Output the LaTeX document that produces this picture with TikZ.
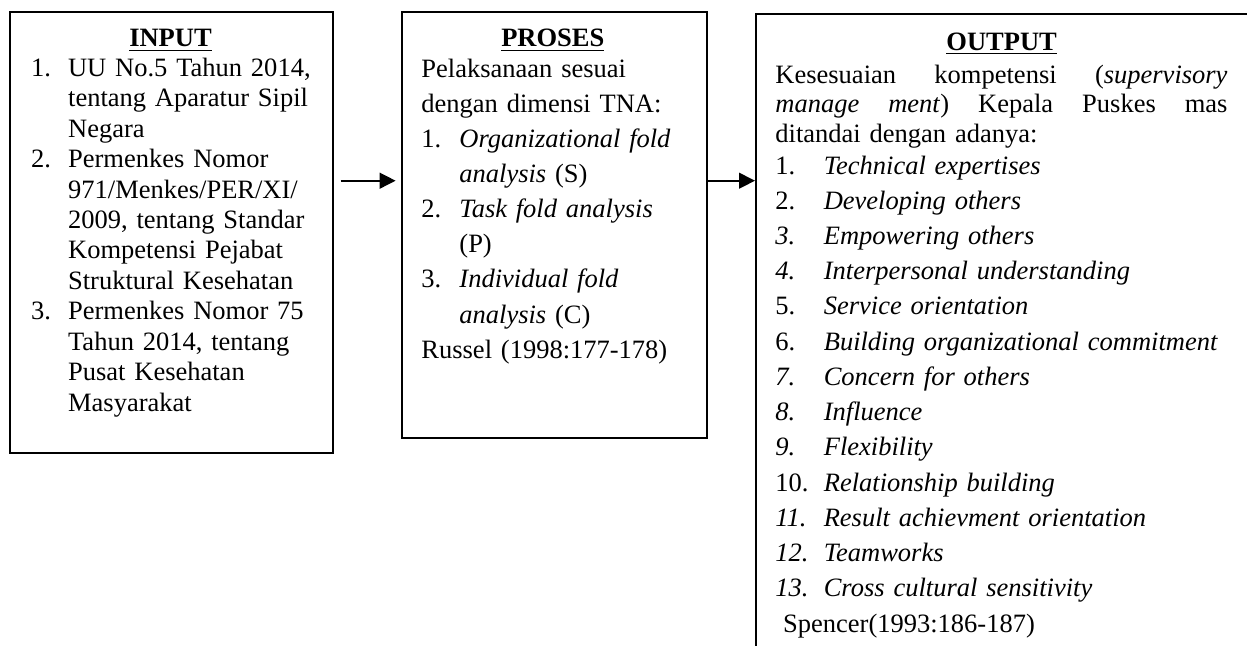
\documentclass[tikz,border=0pt]{standalone}
\usepackage{fontspec}
\setmainfont{Liberation Serif}
\usetikzlibrary{arrows.meta}

\newcommand{\numbox}[2][17pt]{\makebox[#1][l]{#2}}

\tikzset{
  box/.style={draw, line width=0.9pt, rectangle, inner sep=0pt, anchor=north west},
  boxtitle/.style={inner sep=0pt, anchor=base, font=\fontsize{12pt}{14pt}\selectfont\bfseries},
  boxtext/.style={inner sep=0pt, anchor=base west, align=left},
  flow/.style={-{Triangle[length=7.2pt,width=7.1pt]}, line width=0.9pt},
}

\begin{document}
\begin{tikzpicture}[x=0.4528pt, y=-0.4528pt]
    \useasboundingbox (0,0) rectangle (1247,645);
    \clip (0,0) rectangle (1247,645);

    % boxes
    \node[box, minimum width=146.1pt, minimum height=199.8pt] (input) at (9,11) {};
    \node[box, minimum width=138.1pt, minimum height=192.8pt] (proses) at (400.7,11) {};
    \node[box, minimum width=235.5pt, minimum height=298.8pt] (output) at (755,13.3) {};

    % titles
    \node[boxtitle] (intitle) at (170.5,46.7) {\underline{INPUT}};
    \node[boxtitle] (prtitle) at (552.8,46.7) {\underline{PROSES}};
    \node[boxtitle] (outtitle) at (1001.7,50) {\underline{OUTPUT}};

    % input
    \node[boxtext, text width=145pt, font=\fontsize{12pt}{13.81pt}\selectfont] (inlist) at (30.7,76) {%
      \numbox[16.75pt]{1.}UU No.5 Tahun 2014,\\
      \numbox[16.75pt]{}tentang Aparatur Sipil\\
      \numbox[16.75pt]{}Negara\\
      \numbox[16.75pt]{2.}Permenkes Nomor\\
      \numbox[16.75pt]{}971/Menkes/PER/XI/\\
      \numbox[16.75pt]{}2009, tentang Standar\\
      \numbox[16.75pt]{}Kompetensi Pejabat\\
      \numbox[16.75pt]{}Struktural Kesehatan\\
      \numbox[16.75pt]{3.}Permenkes Nomor 75\\
      \numbox[16.75pt]{}Tahun 2014, tentang\\
      \numbox[16.75pt]{}Pusat Kesehatan\\
      \numbox[16.75pt]{}Masyarakat};

    % proses
    \node[boxtext, text width=130pt, font=\fontsize{12pt}{15.9pt}\selectfont] (prlist) at (421,77.3) {%
      Pelaksanaan sesuai\\
      dengan dimensi TNA:\\
      \numbox[17.2pt]{1.}\textit{Organizational fold}\\
      \numbox[17.2pt]{}\textit{analysis} (S)\\
      \numbox[17.2pt]{2.}\textit{Task fold analysis}\\
      \numbox[17.2pt]{}(P)\\
      \numbox[17.2pt]{3.}\textit{Individual fold}\\
      \numbox[17.2pt]{}\textit{analysis} (C)\\
      Russel (1998:177-178)};

    % output
    \node[boxtext, text width=204.7pt, font=\fontsize{12pt}{13.4pt}\selectfont] (outpara) at (775,83.3) {%
      \makebox[204.7pt][s]{Kesesuaian\hfill kompetensi\hfill (\textit{supervisory}}\\
      \makebox[204.7pt][s]{\textit{manage}\hfill\textit{ment})\hfill Kepala\hfill Puskes\hfill mas}\\
      ditandai dengan adanya:};
    \node[boxtext, text width=212pt, font=\fontsize{12pt}{15.96pt}\selectfont] (outlist) at (775,174) {%
      \numbox[21.9pt]{1.}\textit{Technical expertises}\\
      \numbox[21.9pt]{2.}\textit{Developing others}\\
      \numbox[21.9pt]{\textit{3.}}\textit{Empowering others}\\
      \numbox[21.9pt]{\textit{4.}}\textit{Interpersonal understanding}\\
      \numbox[21.9pt]{5.}\textit{Service orientation}\\
      \numbox[21.9pt]{6.}\textit{Building organizational commitment}\\
      \numbox[21.9pt]{\textit{7.}}\textit{Concern for others}\\
      \numbox[21.9pt]{\textit{8.}}\textit{Influence}\\
      \numbox[21.9pt]{\textit{9.}}\textit{Flexibility}\\
      \numbox[21.9pt]{10.}\textit{Relationship building}\\
      \numbox[21.9pt]{\textit{11.}}\textit{Result achievment orientation}\\
      \numbox[21.9pt]{\textit{12.}}\textit{Teamworks}\\
      \numbox[21.9pt]{\textit{13.}}\textit{Cross cultural sensitivity}\\
      \hspace*{3.5pt}Spencer(1993:186-187)};

    % arrows
    \coordinate (a1) at (340.7,180.7);
    \draw[flow, shorten >=2.3pt] (a1) -- (a1 -| proses.west);
    \draw[flow] (proses.east |- a1) -- (output.west |- a1);
\end{tikzpicture}
\end{document}
